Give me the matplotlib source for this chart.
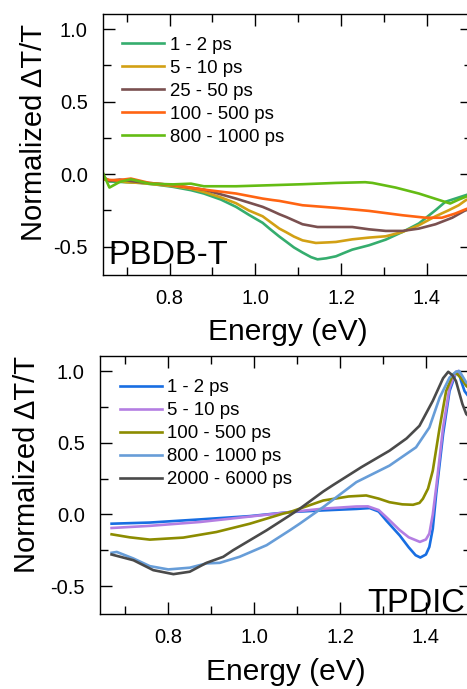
import numpy as np
import matplotlib
matplotlib.use("Agg")
import matplotlib.pyplot as plt
from matplotlib.ticker import MultipleLocator

plt.rcParams['font.family'] = ['Liberation Sans', 'DejaVu Sans']

# ---- PBDB-T (top panel) ----
pb_labels = ['1 - 2 ps', '5 - 10 ps', '25 - 50 ps', '100 - 500 ps', '800 - 1000 ps']
pb_colors = ['#35ad6e', '#d2a014', '#7a5050', '#ff6412', '#64bc14']

pb_e1 = [0.645, 0.66, 0.70, 0.732, 0.77, 0.808, 0.85, 0.88, 0.92, 0.955, 0.985, 1.017, 1.033, 1.056, 1.072,
         1.09, 1.11, 1.13, 1.145, 1.165, 1.188, 1.205, 1.226, 1.265, 1.304, 1.343, 1.381, 1.42, 1.443, 1.466, 1.49, 1.505]
pb_v1 = [-0.03, -0.05, -0.055, -0.06, -0.072, -0.087, -0.11, -0.133, -0.175, -0.225, -0.28, -0.335, -0.375, -0.43, -0.465,
         -0.505, -0.54, -0.572, -0.587, -0.58, -0.566, -0.545, -0.52, -0.49, -0.451, -0.398, -0.34, -0.248, -0.19, -0.168, -0.145, -0.13]

pb_e2 = [0.645, 0.70, 0.732, 0.808, 0.85, 0.88, 0.92, 0.955, 0.985, 1.017, 1.033, 1.056, 1.072, 1.09, 1.11, 1.141,
         1.17, 1.188, 1.226, 1.265, 1.304, 1.343, 1.381, 1.42, 1.451, 1.474, 1.49, 1.505]
pb_v2 = [-0.035, -0.055, -0.06, -0.082, -0.10, -0.122, -0.16, -0.20, -0.25, -0.29, -0.325, -0.375, -0.40, -0.43, -0.456, -0.474,
         -0.47, -0.467, -0.449, -0.437, -0.428, -0.398, -0.352, -0.29, -0.248, -0.214, -0.18, -0.16]

pb_e3 = [0.645, 0.66, 0.684, 0.732, 0.808, 0.88, 0.955, 1.017, 1.033, 1.056, 1.072, 1.11, 1.145, 1.188, 1.226, 1.265,
         1.304, 1.343, 1.381, 1.42, 1.459, 1.49, 1.505]
pb_v3 = [-0.018, -0.046, -0.037, -0.055, -0.075, -0.106, -0.168, -0.225, -0.245, -0.276, -0.295, -0.345, -0.364, -0.364, -0.364, -0.38,
         -0.391, -0.391, -0.375, -0.345, -0.30, -0.248, -0.23]

pb_e4 = [0.645, 0.66, 0.684, 0.71, 0.753, 0.808, 0.88, 0.955, 1.017, 1.04, 1.056, 1.11, 1.188, 1.265, 1.343, 1.397,
         1.435, 1.466, 1.49, 1.505]
pb_v4 = [-0.03, -0.04, -0.04, -0.03, -0.06, -0.075, -0.106, -0.133, -0.168, -0.178, -0.184, -0.214, -0.232, -0.253, -0.283, -0.30,
         -0.30, -0.271, -0.242, -0.225]

pb_e5 = [0.645, 0.66, 0.684, 0.71, 0.753, 0.808, 0.85, 0.88, 0.955, 1.033, 1.11, 1.188, 1.256, 1.273, 1.327, 1.381,
         1.435, 1.454, 1.474, 1.49, 1.505]
pb_v5 = [0.009, -0.092, -0.053, -0.035, -0.065, -0.07, -0.065, -0.083, -0.083, -0.076, -0.069, -0.06, -0.055, -0.06, -0.092, -0.133,
         -0.184, -0.202, -0.175, -0.156, -0.14]

# ---- TPDIC (bottom panel) ----
tp_labels = ['1 - 2 ps', '5 - 10 ps', '100 - 500 ps', '800 - 1000 ps', '2000 - 6000 ps']
tp_colors = ['#186ee2', '#b47ee2', '#8c8c00', '#679dd8', '#4a4a4a']

tp_e1 = [0.668, 0.757, 0.874, 0.99, 1.083, 1.161, 1.238, 1.269, 1.29, 1.308, 1.339, 1.36, 1.376, 1.387, 1.40, 1.408,
         1.416, 1.424, 1.44, 1.455, 1.47, 1.476, 1.482, 1.49, 1.505]
tp_v1 = [-0.065, -0.057, -0.035, -0.012, 0.016, 0.028, 0.038, 0.044, 0.02, -0.044, -0.147, -0.23, -0.285, -0.301, -0.28, -0.227,
         -0.10, 0.144, 0.56, 0.86, 0.988, 1.0, 0.93, 0.86, 0.80]

tp_e2 = [0.668, 0.757, 0.874, 0.99, 1.083, 1.161, 1.238, 1.265, 1.29, 1.308, 1.339, 1.36, 1.386, 1.40, 1.408,
         1.416, 1.424, 1.44, 1.455, 1.47, 1.476, 1.49, 1.505]
tp_v2 = [-0.095, -0.08, -0.053, -0.015, 0.016, 0.04, 0.055, 0.056, 0.03, -0.02, -0.11, -0.16, -0.192, -0.175, -0.134,
         0.0, 0.19, 0.606, 0.884, 0.995, 1.0, 0.92, 0.86]

tp_e3 = [0.668, 0.71, 0.757, 0.835, 0.912, 0.99, 1.067, 1.083, 1.161, 1.22, 1.261, 1.29, 1.315, 1.345, 1.37, 1.385,
         1.393, 1.405, 1.416, 1.432, 1.447, 1.463, 1.47, 1.482, 1.494, 1.505]
tp_v3 = [-0.139, -0.16, -0.176, -0.162, -0.123, -0.065, 0.005, 0.016, 0.097, 0.125, 0.132, 0.11, 0.085, 0.07, 0.067, 0.08,
         0.109, 0.18, 0.305, 0.606, 0.86, 0.977, 0.988, 0.95, 0.896, 0.87]

tp_e4 = [0.668, 0.68, 0.719, 0.757, 0.80, 0.85, 0.889, 0.92, 0.966, 1.029, 1.083, 1.106, 1.161, 1.238, 1.315, 1.377,
         1.408, 1.432, 1.455, 1.47, 1.478, 1.486, 1.494, 1.505]
tp_v4 = [-0.268, -0.262, -0.308, -0.361, -0.384, -0.372, -0.342, -0.338, -0.296, -0.215, -0.111, -0.065, 0.051, 0.225, 0.34, 0.468,
         0.606, 0.815, 0.954, 0.995, 1.0, 0.96, 0.92, 0.90]

tp_e5 = [0.668, 0.719, 0.765, 0.812, 0.85, 0.889, 0.928, 0.951, 1.029, 1.083, 1.106, 1.161, 1.184, 1.25, 1.315, 1.355,
         1.385, 1.416, 1.44, 1.452, 1.462, 1.47, 1.485, 1.494, 1.505]
tp_v5 = [-0.28, -0.32, -0.389, -0.417, -0.40, -0.338, -0.296, -0.25, -0.111, -0.007, 0.039, 0.16, 0.205, 0.33, 0.444, 0.53,
         0.618, 0.792, 0.95, 0.995, 0.97, 0.93, 0.77, 0.70, 0.67]

pb_e = [pb_e1, pb_e2, pb_e3, pb_e4, pb_e5]
pb_v = [pb_v1, pb_v2, pb_v3, pb_v4, pb_v5]
tp_e = [tp_e1, tp_e2, tp_e3, tp_e4, tp_e5]
tp_v = [tp_v1, tp_v2, tp_v3, tp_v4, tp_v5]

fig = plt.figure(figsize=(4.67, 6.89), dpi=100)
ax1 = fig.add_axes([103/467, 1-275/689, 369/467, 261/689])
ax2 = fig.add_axes([100/467, 1-614/689, 371/467, 258/689])


def style(ax, xmin, ylab_xy, xlab_y):
    ax.set_xlim(xmin, 1.505)
    ax.set_ylim(-0.695, 1.105)
    ax.xaxis.set_minor_locator(MultipleLocator(0.1))
    ax.yaxis.set_minor_locator(MultipleLocator(0.25))
    ax.tick_params(which='both', direction='in', top=True, right=True, width=1, labelsize=14.5)
    ax.tick_params(which='major', length=8.5)
    ax.tick_params(which='minor', length=5.5)
    ax.tick_params(axis='x', pad=10)
    ax.tick_params(axis='y', pad=11)
    ax.set_xticks([0.8, 1.0, 1.2, 1.4])
    ax.set_xticklabels(['0.8', '1.0', '1.2', '1.4'])
    ax.set_yticks([-0.5, 0.0, 0.5, 1.0])
    ax.set_yticklabels(['-0.5', '0.0', '0.5', '1.0'])
    ax.set_xlabel('Energy (eV)', fontsize=21.5)
    ax.set_ylabel('Normalized \u0394T/T', fontsize=21)
    ax.yaxis.set_label_coords(*ylab_xy)
    ax.xaxis.set_label_coords(0.5, xlab_y)
    for s in ax.spines.values():
        s.set_linewidth(1)


for e, v, c, lab in zip(pb_e, pb_v, pb_colors, pb_labels):
    ax1.plot(e, v, color=c, lw=1.9, label=lab)
for e, v, c, lab in zip(tp_e, tp_v, tp_colors, tp_labels):
    ax2.plot(e, v, color=c, lw=1.9, label=lab)

style(ax1, 0.645, (-0.149, 0.546), -0.165)
style(ax2, 0.641, (-0.159, 0.581), -0.172)

ax1.legend(loc='upper left', bbox_to_anchor=(0.052, 0.912), frameon=False, fontsize=13.4,
           handlelength=2.25, handletextpad=0.3, labelspacing=0.32, borderaxespad=0, borderpad=0)
ax2.legend(loc='upper left', bbox_to_anchor=(0.054, 0.91), frameon=False, fontsize=13.4,
           handlelength=2.25, handletextpad=0.3, labelspacing=0.32, borderaxespad=0, borderpad=0)

ax1.text(0.658, -0.617, 'PBDB-T', fontsize=23.5, va='baseline')
ax2.text(1.263, -0.678, 'TPDIC', fontsize=23.5, va='baseline')

fig.savefig('out.png', dpi=100)
